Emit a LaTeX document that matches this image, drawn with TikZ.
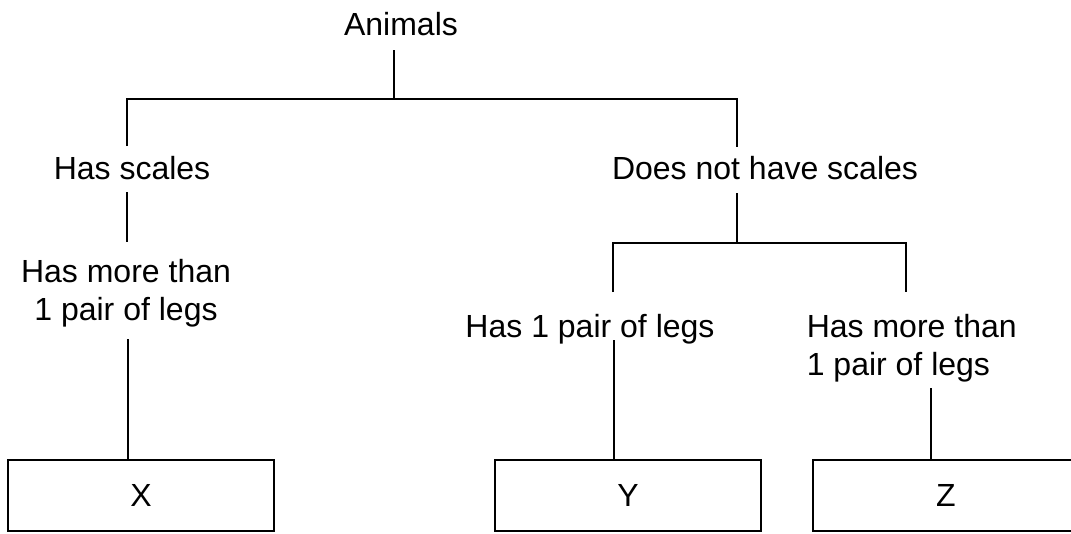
\documentclass[tikz,border=0pt]{standalone}
\usepackage{fontspec}
\setmainfont{Liberation Sans}
\begin{document}
\begin{tikzpicture}[x=1pt,y=-1pt,line width=1.6pt,
  txt/.style={font=\fontsize{32}{37.5}\selectfont,inner sep=0pt,anchor=base},
  leaf/.style={draw,txt,anchor=center,minimum width=266pt,minimum height=71pt}]
  \useasboundingbox (0,0) rectangle (1071,533);
  % labels (two-line ones sit on their last baseline)
  \node[txt] (animals) at (401,35) {Animals};
  \node[txt] (scales) at (132,179) {Has scales};
  \node[txt] (noscales) at (765,179) {Does not have scales};
  \node[txt,align=center] (manyL) at (126,320) {Has more than\\1 pair of legs};
  \node[txt] (onepair) at (590,337) {Has 1 pair of legs};
  \node[txt,align=left,anchor=base west] (manyR) at (806,375) {Has more than\\1 pair of legs};
  % boxes
  \node[leaf] (X) at (141,495.5) {X};
  \node[leaf] (Y) at (628,495.5) {Y};
  \node[leaf] (Z) at (946,495.5) {Z};
  % branch points
  \coordinate (root) at (394,99);
  \coordinate (left) at (127,99);
  \coordinate (right) at (737,99);
  \coordinate (split) at (737,243);
  \coordinate (one) at (613,243);
  \coordinate (more) at (906,243);
  % tree
  \draw (394,50) -- (root);
  \draw (left |- 0,146) -- (left) -- (right) -- (right |- 0,147);
  \draw (127,192) -- (127,242);
  \draw (737,193) -- (split);
  \draw (one |- 0,292) -- (one) -- (more) -- (more |- 0,292);
  \draw (128,339) -- (X.north -| 128,0);
  \draw (614,340) -- (Y.north -| 614,0);
  \draw (931,388) -- (Z.north -| 931,0);
\end{tikzpicture}
\end{document}
